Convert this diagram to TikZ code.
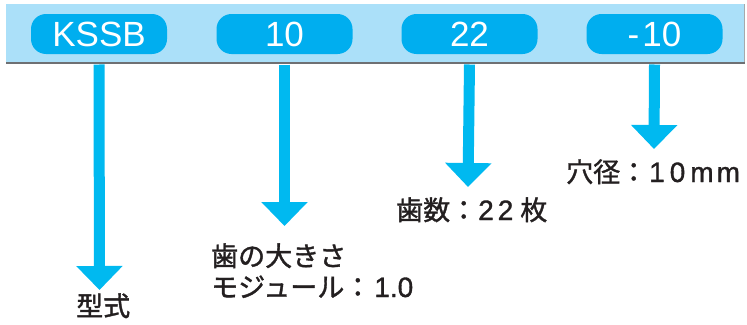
\documentclass[tikz,border=0pt]{standalone}
\usepackage{fontspec}
\setmainfont{Liberation Sans}
\newfontfamily\jp[FakeBold=1.4]{Noto Sans CJK JP}
\newfontfamily\lat[FakeBold=1.2]{Liberation Sans}
\usetikzlibrary{arrows.meta}
\definecolor{bandblue}{RGB}{171,224,249}
\definecolor{pillblue}{RGB}{0,174,239}
\definecolor{arrblue}{RGB}{0,185,240}
\definecolor{shadowgray}{RGB}{110,112,115}
\definecolor{ink}{RGB}{35,31,32}
\tikzset{
  pill/.style={fill=pillblue, rounded corners=15pt, minimum width=136pt, minimum height=40pt,
    inner sep=0pt, text=white, font=\fontsize{35}{35}\selectfont},
  lbl/.style={anchor=base west, inner sep=0pt, text=ink, font=\fontsize{28}{28}\lat},
  arr/.style={draw=arrblue, line width=11pt, -{Triangle[width=45pt,length=24pt]}},
}
\begin{document}
\begin{tikzpicture}[x=1pt,y=-1pt]
\useasboundingbox (0,0) rectangle (747,324);
% band
\fill[bandblue] (6,4) rectangle (745,62);
\draw[shadowgray, line width=2.5pt] (6,63) -- (745,63);
\draw[shadowgray!60, line width=0.8pt] (744.5,4) -- (744.5,62);
\coordinate (bandbot) at (0,64.5);
% pills
\node[pill] (p1) at (99,34) {KSSB};
\node[pill] (p2) at (284.5,34) {10};
\node[pill] (p3) at (469.5,34) {22};
\node[pill] (p4) at (654.5,34) {-\kern3pt 10};
% arrow tips
\coordinate (t1) at (99.5,290);
\coordinate (t2) at (284.5,226);
\coordinate (t3) at (468,187);
\coordinate (t4) at (654,149);
\draw[arr] (p1.south |- bandbot) -- (t1);
\draw[arr] (p2.south |- bandbot) -- (t2);
\draw[arr] (p3.south |- bandbot) -- (t3);
\draw[arr] (p4.south |- bandbot) -- (t4);
% labels
\node[lbl] (l1) at (76,316) {{\fontsize{27}{27}\jp 型式}};
\node[lbl] (l2a) at (211,266) {{\fontsize{27}{27}\jp 歯の大きさ}};
\node[lbl] (l2b) at (211,297) {{\fontsize{27}{27}\jp モジュール：}\kern3pt 1.0};
\node[lbl] (l3) at (396,220) {{\fontsize{27}{27}\jp 歯数：}\kern1pt 2\kern4pt2\kern7pt{\fontsize{27}{27}\jp 枚}};
\node[lbl] (l4) at (566,182) {{\fontsize{27}{27}\jp 穴径：}\kern2pt 1\kern5pt0\kern5ptm\kern3ptm};
\end{tikzpicture}
\end{document}
